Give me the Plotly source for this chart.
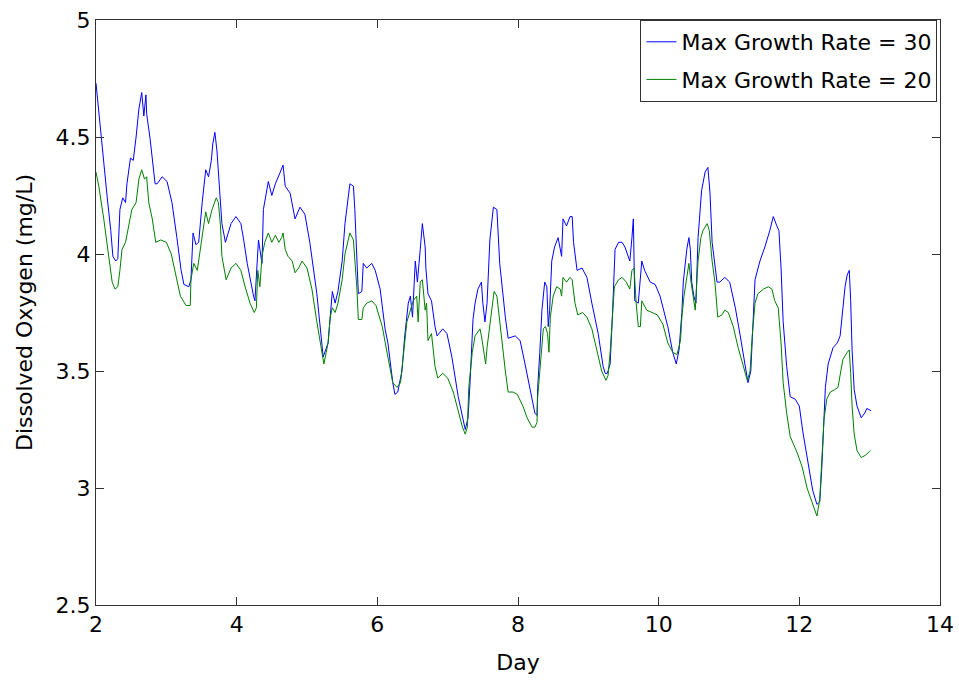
import plotly.graph_objects as go

# ---- data ----
day_30 = [2.00, 2.04, 2.09, 2.16, 2.21, 2.24, 2.28, 2.31, 2.34, 2.38, 2.42, 2.44, 2.49, 2.53, 2.57,
          2.61, 2.65, 2.68, 2.71, 2.72, 2.77, 2.80, 2.84, 2.87, 2.94, 3.01, 3.08, 3.15, 3.21, 3.25,
          3.32, 3.35, 3.38, 3.42, 3.46, 3.51, 3.56, 3.60, 3.64, 3.66, 3.69, 3.72, 3.76, 3.79, 3.84,
          3.92, 3.99, 4.06, 4.10, 4.15, 4.24, 4.26, 4.31, 4.36, 4.38, 4.45, 4.50, 4.55, 4.62, 4.66,
          4.69, 4.76, 4.83, 4.90, 4.97, 5.04, 5.14, 5.23, 5.30, 5.36, 5.40, 5.44, 5.50, 5.54, 5.61,
          5.66, 5.68, 5.71, 5.73, 5.78, 5.80, 5.85, 5.92, 5.97, 6.04, 6.11, 6.15, 6.22, 6.25, 6.29,
          6.35, 6.39, 6.44, 6.47, 6.50, 6.54, 6.57, 6.61, 6.64, 6.68, 6.69, 6.72, 6.77, 6.82, 6.85,
          6.93, 6.99, 7.06, 7.15, 7.25, 7.29, 7.32, 7.36, 7.39, 7.43, 7.48, 7.50, 7.53, 7.56, 7.60,
          7.65, 7.70, 7.74, 7.82, 7.86, 7.96, 8.03, 8.10, 8.17, 8.24, 8.27, 8.28, 8.31, 8.34, 8.38,
          8.41, 8.43, 8.45, 8.48, 8.52, 8.57, 8.60, 8.62, 8.64, 8.69, 8.74, 8.77, 8.79, 8.84, 8.91,
          8.98, 9.05, 9.14, 9.21, 9.24, 9.27, 9.31, 9.34, 9.36, 9.38, 9.43, 9.48, 9.52, 9.59, 9.62,
          9.64, 9.66, 9.71, 9.76, 9.80, 9.88, 9.95, 10.02, 10.13, 10.20, 10.25, 10.29, 10.33, 10.35,
          10.37, 10.40, 10.43, 10.45, 10.47, 10.50, 10.53, 10.56, 10.61, 10.66, 10.70, 10.73, 10.76,
          10.83, 10.87, 10.94, 11.01, 11.09, 11.16, 11.23, 11.27, 11.31, 11.34, 11.37, 11.44, 11.51,
          11.58, 11.63, 11.68, 11.71, 11.74, 11.77, 11.82, 11.87, 11.94, 12.00, 12.05, 12.12, 12.19,
          12.25, 12.29, 12.32, 12.34, 12.37, 12.41, 12.48, 12.54, 12.58, 12.62, 12.65, 12.68, 12.71,
          12.73, 12.75, 12.78, 12.82, 12.88, 12.93, 12.96, 13.02]
do_30 = [4.73, 4.60, 4.44, 4.24, 4.10, 3.99, 3.97, 3.98, 4.19, 4.24, 4.22, 4.30, 4.41, 4.40, 4.50,
         4.62, 4.69, 4.59, 4.68, 4.60, 4.49, 4.40, 4.30, 4.30, 4.33, 4.31, 4.22, 4.07, 3.93, 3.87,
         3.86, 3.89, 4.09, 4.04, 4.05, 4.22, 4.36, 4.33, 4.40, 4.47, 4.52, 4.44, 4.27, 4.13, 4.05,
         4.13, 4.16, 4.13, 4.06, 3.96, 3.82, 3.80, 4.06, 3.96, 4.19, 4.31, 4.25, 4.30, 4.35, 4.38,
         4.29, 4.26, 4.15, 4.20, 4.17, 4.05, 3.83, 3.56, 3.62, 3.84, 3.79, 3.84, 3.97, 4.13, 4.30,
         4.29, 4.19, 3.97, 3.83, 3.84, 3.96, 3.94, 3.96, 3.93, 3.85, 3.68, 3.62, 3.45, 3.40, 3.41,
         3.50, 3.65, 3.79, 3.82, 3.73, 3.97, 3.88, 4.02, 4.13, 4.03, 3.94, 3.83, 3.80, 3.69, 3.65,
         3.68, 3.66, 3.56, 3.39, 3.25, 3.30, 3.46, 3.72, 3.79, 3.85, 3.88, 3.79, 3.71, 3.79, 4.06,
         4.20, 4.19, 3.96, 3.73, 3.64, 3.65, 3.63, 3.53, 3.42, 3.32, 3.31, 3.43, 3.58, 3.76, 3.88,
         3.86, 3.69, 3.76, 3.97, 4.03, 4.07, 4.03, 3.99, 4.15, 4.12, 4.16, 4.16, 4.05, 3.93, 3.94,
         3.90, 3.79, 3.66, 3.52, 3.49, 3.49, 3.53, 3.72, 3.89, 4.02, 4.05, 4.05, 4.03, 3.97, 4.07,
         4.15, 3.80, 3.79, 3.97, 3.93, 3.88, 3.87, 3.82, 3.69, 3.58, 3.53, 3.59, 3.75, 3.88,
         3.95, 4.02, 4.07, 4.02, 3.88, 3.82, 3.79, 4.07, 4.27, 4.35, 4.37, 4.26, 4.05,
         3.88, 3.88, 3.90, 3.88, 3.77, 3.65, 3.52, 3.45, 3.50, 3.73, 3.89, 3.97, 4.03,
         4.10, 4.16, 4.12, 4.10, 3.94, 3.71, 3.52, 3.39, 3.38, 3.35, 3.24, 3.11, 2.99,
         2.93, 2.94, 3.09, 3.26, 3.43, 3.53, 3.60, 3.62, 3.65, 3.77, 3.86, 3.91, 3.93,
         3.80, 3.59, 3.42, 3.35, 3.30, 3.32, 3.34, 3.33]

day_20 = [2.00, 2.04, 2.11, 2.18, 2.23, 2.27, 2.31, 2.34, 2.37, 2.42, 2.47, 2.51, 2.57, 2.61, 2.65,
          2.69, 2.72, 2.75, 2.80, 2.85, 2.92, 3.00, 3.07, 3.14, 3.20, 3.28, 3.34, 3.35, 3.39, 3.44,
          3.51, 3.56, 3.60, 3.65, 3.71, 3.74, 3.77, 3.79, 3.85, 3.92, 3.99, 4.06, 4.12, 4.19, 4.25,
          4.28, 4.30, 4.33, 4.36, 4.40, 4.45, 4.50, 4.55, 4.60, 4.64, 4.66, 4.69, 4.73, 4.79, 4.83,
          4.88, 4.93, 5.00, 5.07, 5.14, 5.20, 5.24, 5.30, 5.33, 5.36, 5.40, 5.44, 5.50, 5.54, 5.58,
          5.61, 5.66, 5.68, 5.71, 5.73, 5.78, 5.80, 5.85, 5.92, 5.98, 6.07, 6.11, 6.15, 6.22, 6.28,
          6.33, 6.37, 6.42, 6.46, 6.51, 6.56, 6.58, 6.61, 6.64, 6.68, 6.70, 6.72, 6.77, 6.82, 6.86,
          6.93, 7.00, 7.08, 7.15, 7.21, 7.25, 7.28, 7.30, 7.35, 7.39, 7.46, 7.48, 7.51, 7.54, 7.56,
          7.62, 7.66, 7.70, 7.74, 7.82, 7.86, 7.93, 7.99, 8.07, 8.13, 8.20, 8.24, 8.27, 8.28, 8.31,
          8.36, 8.39, 8.42, 8.44, 8.46, 8.50, 8.55, 8.60, 8.62, 8.64, 8.69, 8.74, 8.77, 8.81, 8.85,
          8.92, 8.98, 9.05, 9.12, 9.19, 9.25, 9.28, 9.31, 9.34, 9.37, 9.43, 9.48, 9.54, 9.59, 9.62,
          9.65, 9.68, 9.71, 9.74, 9.76, 9.83, 9.91, 9.98, 10.06, 10.13, 10.20, 10.26, 10.31, 10.33,
          10.36, 10.40, 10.43, 10.46, 10.49, 10.52, 10.56, 10.60, 10.63, 10.69, 10.72, 10.76, 10.80,
          10.84, 10.90, 10.94, 10.99, 11.06, 11.13, 11.20, 11.26, 11.30, 11.33, 11.37, 11.41, 11.49,
          11.56, 11.61, 11.65, 11.70, 11.74, 11.77, 11.82, 11.87, 11.97, 12.04, 12.11, 12.18, 12.25,
          12.29, 12.32, 12.35, 12.39, 12.44, 12.50, 12.55, 12.59, 12.62, 12.68, 12.71, 12.73, 12.75,
          12.78, 12.82, 12.88, 12.94, 13.01]
do_20 = [4.35, 4.29, 4.15, 3.99, 3.88, 3.85, 3.86, 3.93, 4.02, 4.05, 4.13, 4.19, 4.22, 4.32, 4.36,
         4.32, 4.33, 4.22, 4.15, 4.05, 4.06, 4.05, 4.00, 3.90, 3.82, 3.78, 3.78, 3.89, 3.96, 3.93,
         4.07, 4.18, 4.13, 4.19, 4.24, 4.22, 4.12, 3.99, 3.89, 3.94, 3.96, 3.93, 3.86, 3.79, 3.75,
         3.77, 3.93, 3.86, 3.99, 4.05, 4.09, 4.05, 4.08, 4.05, 4.07, 4.09, 4.02, 3.99, 3.97, 3.92,
         3.94, 3.97, 3.94, 3.85, 3.71, 3.59, 3.53, 3.62, 3.73, 3.77, 3.75, 3.79, 3.89, 4.00, 4.05,
         4.09, 4.06, 3.99, 3.85, 3.72, 3.72, 3.77, 3.79, 3.80, 3.78, 3.69, 3.62, 3.56, 3.45, 3.43,
         3.45, 3.56, 3.71, 3.75, 3.80, 3.82, 3.71, 3.88, 3.89, 3.76, 3.79, 3.63, 3.66, 3.52, 3.47,
         3.49, 3.47, 3.41, 3.33, 3.26, 3.23, 3.26, 3.43, 3.58, 3.65, 3.68, 3.65, 3.59, 3.53, 3.60,
         3.76, 3.84, 3.82, 3.71, 3.50, 3.41, 3.41, 3.40, 3.35, 3.30, 3.26, 3.26, 3.28, 3.39, 3.50,
         3.68, 3.69, 3.66, 3.58, 3.73, 3.82, 3.86, 3.85, 3.82, 3.90, 3.88, 3.90, 3.89, 3.79, 3.74,
         3.75, 3.73, 3.68, 3.59, 3.50, 3.46, 3.48, 3.58, 3.73, 3.86, 3.89, 3.90, 3.88, 3.85, 3.93,
         3.94, 3.79, 3.69, 3.69, 3.80, 3.76, 3.75, 3.74, 3.70, 3.62, 3.58, 3.57, 3.63, 3.73,
         3.82, 3.90, 3.96, 3.88, 3.82, 3.76, 3.97, 4.07, 4.10, 4.13, 4.10, 3.97, 3.88,
         3.73, 3.74, 3.76, 3.75, 3.69, 3.60, 3.52, 3.46, 3.50, 3.65, 3.79, 3.83, 3.85,
         3.86, 3.85, 3.80, 3.77, 3.62, 3.45, 3.32, 3.22, 3.15, 3.09, 3.00, 2.94, 2.88,
         2.95, 3.15, 3.29, 3.38, 3.41, 3.42, 3.43, 3.50, 3.55, 3.58, 3.59, 3.49, 3.35,
         3.23, 3.16, 3.13, 3.14, 3.16]

series_names = ["Max Growth Rate = 30", "Max Growth Rate = 20"]
x_ticks = [2, 4, 6, 8, 10, 12, 14]
y_ticks = [2.5, 3, 3.5, 4, 4.5, 5]

FONT = "DejaVu Sans"
FS = 22

fig = go.Figure()
fig.add_trace(go.Scatter(x=day_30, y=do_30, mode="lines", name=series_names[0],
                         legendgroup="a", line=dict(color="#0000ff", width=1)))
fig.add_trace(go.Scatter(x=day_20, y=do_20, mode="lines", name=series_names[1],
                         legendgroup="b", line=dict(color="#008000", width=1)))

axis_common = dict(showline=True, linecolor="#333333", linewidth=1, mirror="ticks",
                   ticks="inside", ticklen=8, tickcolor="#333333", showgrid=False,
                   zeroline=False, automargin=False,
                   tickfont=dict(family=FONT, size=FS, color="black"))

fig.update_layout(
    width=959, height=684,
    margin=dict(l=96, r=19, t=20, b=79),
    paper_bgcolor="white", plot_bgcolor="white",
    font=dict(family=FONT, size=FS, color="black"),
    xaxis=dict(range=[2, 14], tickvals=x_ticks, title=dict(text="Day", standoff=18,
               font=dict(family=FONT, size=FS)), **axis_common),
    yaxis=dict(range=[2.5, 5], tickvals=y_ticks, title=dict(text="Dissolved Oxygen (mg/L)", standoff=16,
               font=dict(family=FONT, size=FS)), **axis_common),
    legend=dict(x=0.997, y=1.0, xanchor="right", yanchor="top", bgcolor="white",
                bordercolor="#333333", borderwidth=1, tracegroupgap=6,
                font=dict(family=FONT, size=FS, color="black")),
    showlegend=True,
)

fig.write_html("out.html", config={"displayModeBar": False},
               post_script="document.body.style.margin='0';")
